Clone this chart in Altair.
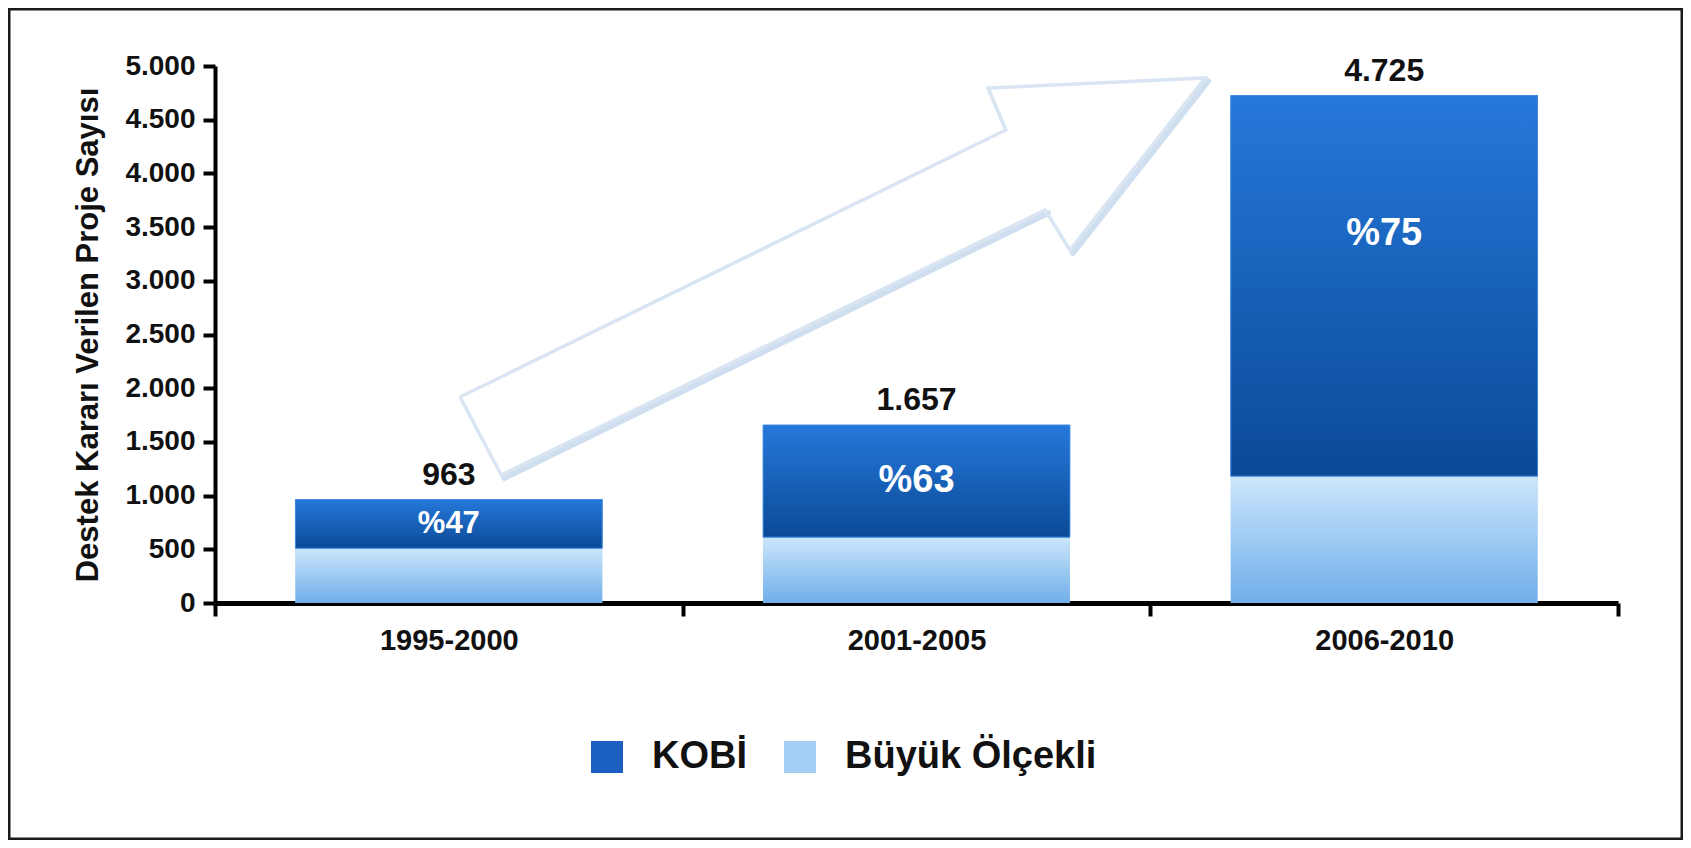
import altair as alt
import pandas as pd

FONT = "Liberation Sans, Arial, Helvetica, sans-serif"

# ---- data ----
periods = ["1995-2000", "2001-2005", "2006-2010"]
totals = [963, 1657, 4725]
kobi_pct = [47, 63, 75]
kobi = [453, 1044, 3544]        # KOBİ share of each total
buyuk = [510, 613, 1181]        # Büyük Ölçekli share of each total
series_names = ["KOBİ", "Büyük Ölçekli"]
series_colors = ["#1a5fc0", "#a4cff4"]
y_ticks = [0, 500, 1000, 1500, 2000, 2500, 3000, 3500, 4000, 4500, 5000]
y_title = "Destek Kararı Verilen Proje Sayısı"

# decorative hollow arrow (x in category-band units, y in project counts)
arrow_x = [0.524, 1.691, 1.653, 2.117, 1.828, 1.775, 0.612, 0.524]
arrow_y = [1918, 4404, 4795, 4888, 3287, 3659, 1192, 1918]
# lower edges of the arrow that carry a soft shadow (vertex indices)
shadow_edges = [[6, 5], [4, 3]]

# ---- tables ----
wide = pd.DataFrame({"period": periods, "total": totals, "kobi": kobi,
                     "buyuk": buyuk, "kobi_pct": kobi_pct})
long_rows = []
for p, k, b in zip(periods, kobi, buyuk):
    long_rows.append({"period": p, "series": series_names[1], "start": 0, "end": b})
    long_rows.append({"period": p, "series": series_names[0], "start": b, "end": b + k})
long = pd.DataFrame(long_rows)
arrow_df = pd.DataFrame({"i": list(range(len(arrow_x))), "ax": arrow_x, "ay": arrow_y})
shadow_rows = []
for s, edge in enumerate(shadow_edges):
    for j, idx in enumerate(edge):
        shadow_rows.append({"seg": s, "j": j, "ax": arrow_x[idx], "ay": arrow_y[idx]})
shadow_df = pd.DataFrame(shadow_rows)

W, H = 1403, 537

y_scale = alt.Scale(domain=[0, 5000], nice=False, zero=True)
y_axis = alt.Axis(
    title=y_title, values=y_ticks,
    labelExpr="replace(format(datum.value, ','), ',', '.')",
    labelFont=FONT, labelFontSize=28, labelFontWeight="bold", labelColor="#111",
    labelPadding=8, tickSize=12, tickWidth=4, tickColor="black",
    domainColor="black", domainWidth=4, grid=False,
    titleFont=FONT, titleFontSize=31, titleFontWeight="bold", titleColor="#111",
    titlePadding=20,
)
x_enc = alt.X(
    "period:N", sort=periods,
    scale=alt.Scale(paddingInner=0, paddingOuter=0),
    axis=alt.Axis(
        title=None, labelAngle=0, labelFont=FONT, labelFontSize=29,
        labelFontWeight="bold", labelColor="#111", labelPadding=10,
        tickSize=13, tickWidth=4, tickColor="black", tickBand="extent",
        domainColor="black", domainWidth=5, grid=False,
    ),
)
bar_w = alt.RelativeBandSize(0.656)

legend = alt.Legend(
    orient="none", legendX=373, legendY=672, direction="horizontal", title=None,
    symbolType="square", symbolSize=1024, symbolStrokeWidth=0, symbolOpacity=1,
    labelFont=FONT, labelFontSize=38, labelFontWeight="bold", labelColor="#111",
    labelOffset=26, columnPadding=34, labelLimit=0,
)

solid = alt.Chart(long).mark_bar(width=bar_w).encode(
    x=x_enc,
    y=alt.Y("start:Q", scale=y_scale, axis=y_axis),
    y2="end:Q",
    color=alt.Color("series:N", scale=alt.Scale(domain=series_names, range=series_colors),
                    legend=legend),
)

kobi_grad = alt.LinearGradient(
    gradient="linear", x1=0, x2=0, y1=0, y2=1,
    stops=[alt.GradientStop(color="#2678da", offset=0),
           alt.GradientStop(color="#0a4a97", offset=1)])
buyuk_grad = alt.LinearGradient(
    gradient="linear", x1=0, x2=0, y1=0, y2=1,
    stops=[alt.GradientStop(color="#cbe6fb", offset=0),
           alt.GradientStop(color="#70aeea", offset=1)])

g_buyuk = alt.Chart(long).transform_filter(
    alt.datum.series == series_names[1]
).mark_bar(width=bar_w, color=buyuk_grad).encode(
    x=x_enc, y=alt.Y("start:Q", scale=y_scale, axis=y_axis), y2="end:Q")

g_kobi = alt.Chart(long).transform_filter(
    alt.datum.series == series_names[0]
).mark_bar(width=bar_w, color=kobi_grad, stroke="#3d88e0", strokeWidth=1).encode(
    x=x_enc, y=alt.Y("start:Q", scale=y_scale, axis=y_axis), y2="end:Q")

tot_text = alt.Chart(wide).transform_calculate(
    lab="replace(format(datum.total, ','), ',', '.')"
).mark_text(font=FONT, fontSize=32, fontWeight="bold", color="#111",
            baseline="alphabetic", dy=-15).encode(
    x=x_enc, y=alt.Y("total:Q", scale=y_scale, axis=y_axis), text="lab:N")

pct_text = alt.Chart(wide).transform_calculate(
    lab="'%' + datum.kobi_pct",
    ly="datum.total - min(0.5 * datum.kobi, 1290)",
).mark_text(font=FONT, fontWeight="bold", color="white", baseline="middle").encode(
    x=x_enc, y=alt.Y("ly:Q", scale=y_scale, axis=y_axis), text="lab:N",
    size=alt.condition(alt.datum.period == periods[0], alt.value(31), alt.value(38)),
)

inner = alt.layer(solid, g_buyuk, g_kobi, tot_text, pct_text)

ax_scale = alt.Scale(domain=[0, 3], nice=False, zero=False)
arrow_shadow = alt.Chart(shadow_df).mark_line(
    color="#d0dff0", strokeWidth=6, xOffset=3, yOffset=3, strokeCap="round"
).encode(
    x=alt.X("ax:Q", scale=ax_scale, axis=None),
    y=alt.Y("ay:Q", scale=y_scale, axis=y_axis),
    detail="seg:N",
    order="j:O",
)
arrow = alt.Chart(arrow_df).mark_line(
    color="#d9e5f3", strokeWidth=3.5, strokeJoin="miter"
).encode(
    x=alt.X("ax:Q", scale=ax_scale, axis=None),
    y=alt.Y("ay:Q", scale=y_scale, axis=y_axis),
    order="i:O",
)
arrows = alt.layer(arrow_shadow, arrow)

frame = alt.Chart(pd.DataFrame({"f": [0]})).mark_rect(
    fillOpacity=0, stroke="#1a1a1a", strokeWidth=3
).encode(x=alt.value(-206), x2=alt.value(W + 64), y=alt.value(-57), y2=alt.value(773))

chart = alt.layer(arrows, inner, frame).resolve_scale(x="independent").properties(
    width=W, height=H,
    padding={"left": 207, "top": 58, "right": 65, "bottom": 237},
    autosize=alt.AutoSizeParams(type="none"),
    background="white",
).configure_view(strokeWidth=0)

chart.save("out.html", embed_options={"renderer": "svg", "actions": False})
